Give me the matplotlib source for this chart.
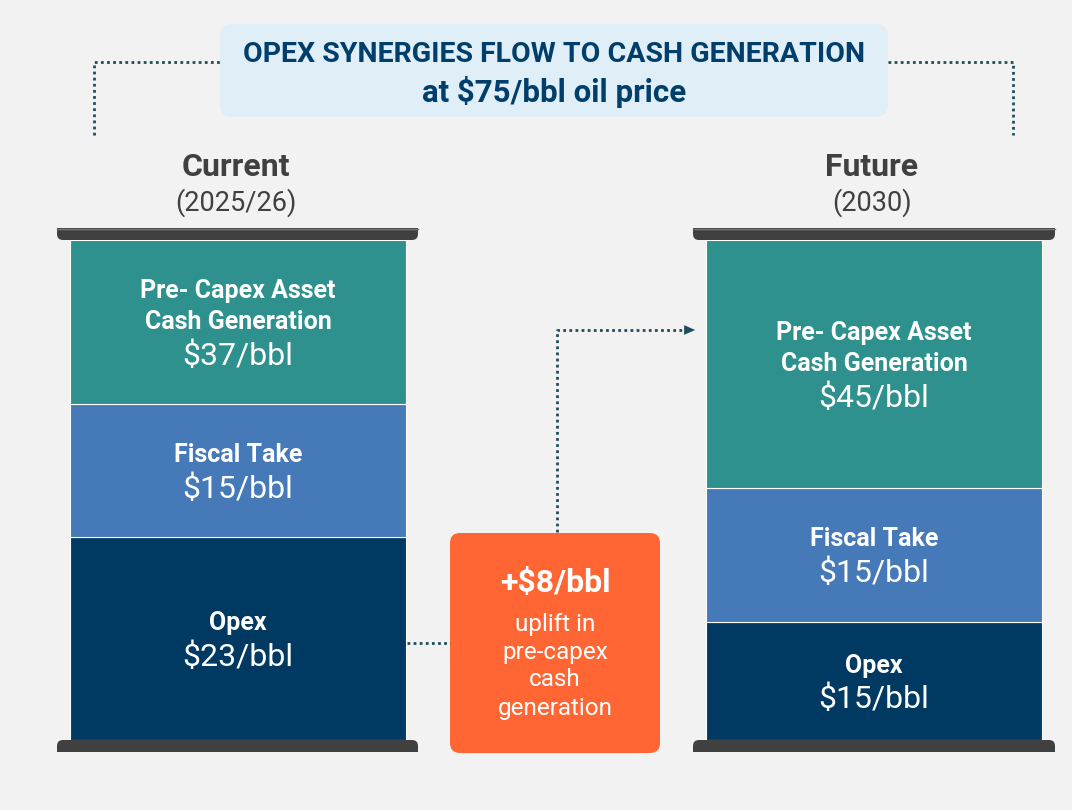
import matplotlib.pyplot as plt
from matplotlib.patches import FancyBboxPatch, Rectangle
import numpy as np

# data
periods = ["Current", "Future"]
period_years = ["(2025/26)", "(2030)"]
segments = ["Opex", "Fiscal Take", "Pre- Capex Asset\nCash Generation"]
current_values = [23, 15, 37]
future_values = [15, 15, 45]
# share of the barrel height each block takes in the picture (%)
current_share = [40.6, 26.6, 32.8]
future_share = [23.6, 26.8, 49.6]
uplift = 8
oil_price = 75

seg_colors = ["#003a63", "#4679b8", "#2e918e"]
bg = "#f2f2f2"
dark = "#404040"
navy_txt = "#003e6b"
line_col = "#1f4e5a"
font = "Roboto"

fig = plt.figure(figsize=(10.72, 8.1), dpi=100, facecolor=bg)
ax = fig.add_axes([0, 0, 1, 1])
ax.set_xlim(0, 1072)
ax.set_ylim(810, 0)
ax.axis("off")

# bar axes: 0..100 maps to barrel body (y 740 -> 240 px)
bx = fig.add_axes([0, (810 - 740) / 810, 1, 500 / 810])
bx.set_xlim(0, 1072)
bx.set_ylim(0, 100)
bx.axis("off")
bx.patch.set_alpha(0)

centers = [238, 874]
widths = [336, 336]

for i, (shares, vals) in enumerate([(current_share, current_values), (future_share, future_values)]):
    bottoms = np.concatenate([[0], np.cumsum(shares)[:-1]])
    bx.bar(centers[i], shares, bottom=bottoms, width=widths[i], color=seg_colors,
           edgecolor="white", linewidth=0.8)
    for name, v, s, b in zip(segments, vals, shares, bottoms):
        mid = b + s / 2
        lines = name.split("\n")
        n = len(lines)
        step = 31
        start = n * step / 2
        for k, ln in enumerate(lines):
            bx.annotate(ln, (centers[i], mid), xytext=(0, (start - k * step) * 0.72),
                        textcoords="offset points", ha="center", va="center",
                        fontsize=18, fontweight="bold", color="white", family=font)
        bx.annotate(f"${v}/bbl", (centers[i], mid), xytext=(0, (start - n * step - 3) * 0.72),
                    textcoords="offset points", ha="center", va="center",
                    fontsize=23, color="white", family=font)

# barrel caps
caps = [(57, 418), (693, 1055)]
for x0, x1 in caps:
    # top cap with rounded bottom corners
    ax.add_patch(FancyBboxPatch((x0, 228), x1 - x0, 12,
                                boxstyle="round,pad=0,rounding_size=6",
                                fc=dark, ec="none", zorder=3))
    ax.add_patch(Rectangle((x0, 228), x1 - x0, 6, fc=dark, ec="none", zorder=3))
    ax.plot([x0, x1], [228.5, 228.5], color="#777777", lw=1, zorder=4)
    # bottom cap with rounded top corners
    ax.add_patch(FancyBboxPatch((x0, 740), x1 - x0, 12,
                                boxstyle="round,pad=0,rounding_size=6",
                                fc=dark, ec="none", zorder=3))
    ax.add_patch(Rectangle((x0, 746), x1 - x0, 6, fc=dark, ec="none", zorder=3))

# headers
for c, p, yr in zip([236, 872], periods, period_years):
    ax.text(c, 167, p, ha="center", va="center", fontsize=23, fontweight="bold",
            color=dark, family=font)
    ax.text(c, 203, yr, ha="center", va="center", fontsize=19.5, color=dark, family=font)

# title box
ax.add_patch(FancyBboxPatch((220, 24), 668, 93, boxstyle="round,pad=0,rounding_size=12",
                            fc="#e0eef8", ec="none", zorder=2))
ax.text(554, 54, "OPEX SYNERGIES FLOW TO CASH GENERATION", ha="center", va="center",
        fontsize=20.5, fontweight="bold", color=navy_txt, family=font, zorder=3)
ax.text(554, 92, f"at ${oil_price}/bbl oil price", ha="center", va="center",
        fontsize=22.5, fontweight="bold", color=navy_txt, family=font, zorder=3)

# dotted bracket
dot = dict(color=line_col, lw=2, ls=(0, (1, 1.2)))
ax.plot([94, 94, 220], [135, 62, 62], **dot)
ax.plot([888, 1013, 1013], [62, 62, 135], **dot)

# orange uplift box
ax.add_patch(FancyBboxPatch((450, 533), 210, 220, boxstyle="round,pad=0,rounding_size=10",
                            fc="#ff6633", ec="none", zorder=2))
ax.text(555, 583, f"+${uplift}/bbl", ha="center", va="center", fontsize=23,
        fontweight="bold", color="white", family=font, zorder=3)
for k, t in enumerate(["uplift in", "pre-capex", "cash", "generation"]):
    ax.text(555, 624 + k * 28, t, ha="center", va="center", fontsize=17.5,
            color="white", family=font, zorder=3)

# connectors
ax.plot([407, 450], [643, 643], **dot)
ax.plot([557, 557, 686], [532, 330, 330], **dot)
ax.annotate("", xy=(698, 330), xytext=(684, 330),
            arrowprops=dict(arrowstyle="-|>,head_length=0.8,head_width=0.35",
                            color=line_col, lw=0))

fig.savefig("out.png", dpi=100, facecolor=bg)
